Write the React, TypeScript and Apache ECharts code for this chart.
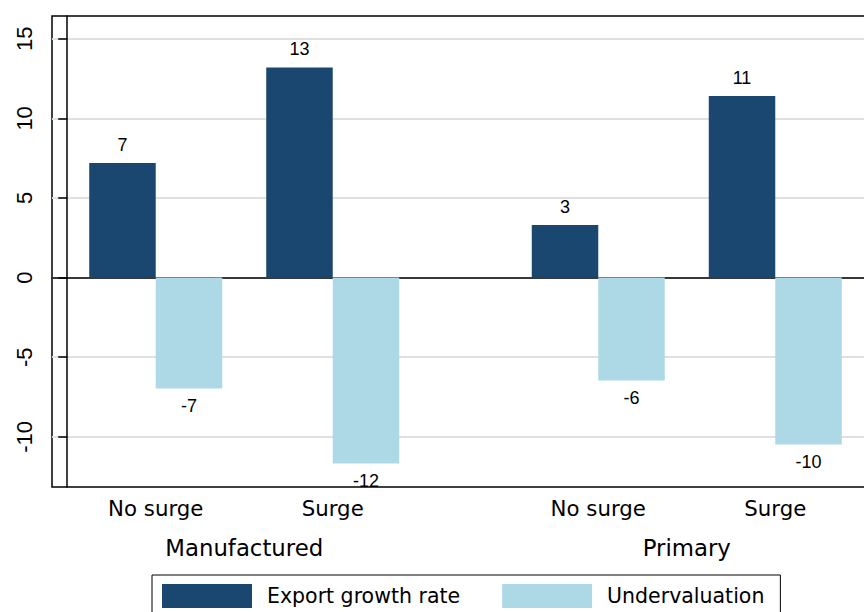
import React, { useEffect, useRef } from "react";
import * as echarts from "echarts";

// ---- data ----
const groupLabels = ["Manufactured", "Primary"];
const groupPositions = [2, 7];
const barLabels = ["No surge", "Surge", "No surge", "Surge"];
const barPositions = [1, 3, 6, 8];
const exportGrowth = [7.2, 13.2, 3.3, 11.4];
const undervaluation = [-6.96, -11.67, -6.46, -10.48];
const yTicks = [-10, -5, 0, 5, 10, 15];
const seriesNames = ["Export growth rate", "Undervaluation"];
const seriesColors = ["#1a476f", "#add8e6"];

export default function App() {
  const ref = useRef<HTMLDivElement>(null);
  useEffect(() => {
    if (!ref.current) return;
    const chart = echarts.init(ref.current, null, { renderer: "svg" });
    const makeSeries = (name: string, vals: number[], color: string) => ({
      type: "bar",
      name,
      barWidth: 66.5,
      barGap: "0%",
      itemStyle: { color },
      label: {
        show: true,
        fontSize: 18,
        fontFamily: "Liberation Sans",
        color: "#000",
        distance: 9,
        formatter: (p: any) => String(Math.round(p.value[1])),
      },
      data: vals.map((v, i) => ({
        value: [barPositions[i], v],
        label: { position: v >= 0 ? "top" : "bottom" },
      })),
    });
    chart.setOption({
      animation: false,
      backgroundColor: "#fff",
      grid: {
        left: 52,
        top: 16,
        width: 827,
        height: 471,
        outerBoundsMode: "none",
        containLabel: false,
        show: true,
        borderColor: "#000",
        borderWidth: 1.5,
        backgroundColor: "transparent",
      },
      xAxis: [
        {
          type: "value",
          min: -0.172,
          max: 9.172,
          axisLine: { show: true, lineStyle: { color: "#000", width: 1.5 } },
          axisTick: { show: false },
          splitLine: { show: false },
          axisLabel: {
            customValues: barPositions,
            formatter: (v: number) => barLabels[barPositions.indexOf(Number(v))] ?? "",
            fontSize: 21.3,
            fontFamily: "DejaVu Sans",
            color: "#000",
            margin: 11,
          },
        },
        {
          type: "value",
          position: "bottom",
          min: -0.172,
          max: 9.172,
          axisLine: { show: false },
          axisTick: { show: false },
          splitLine: { show: false },
          axisLabel: {
            customValues: groupPositions,
            formatter: (v: number) => groupLabels[groupPositions.indexOf(Number(v))] ?? "",
            fontSize: 22.8,
            fontFamily: "DejaVu Sans",
            color: "#000",
            margin: 49,
          },
        },
      ],
      yAxis: {
        type: "value",
        min: -13.15,
        max: 16.43,
        axisLine: { show: true, lineStyle: { color: "#000", width: 1.5 } },
        axisTick: {
          show: true,
          length: 9,
          customValues: yTicks,
          lineStyle: { color: "#000", width: 1.5 },
        },
        splitLine: { show: true, lineStyle: { color: "#e0e0e0", width: 2 } },
        axisLabel: {
          customValues: yTicks,
          rotate: 90,
          fontSize: 22,
          fontFamily: "Liberation Sans",
          color: "#000",
          margin: 17,
        },
      },
      legend: {
        show: true,
        left: 152,
        top: 575,
        orient: "horizontal",
        icon: "rect",
        itemWidth: 90,
        itemHeight: 24,
        itemGap: 42,
        padding: [9, 16, 9, 10],
        borderColor: "#000",
        borderWidth: 1,
        textStyle: {
          fontSize: 20.5,
          fontFamily: "DejaVu Sans",
          color: "#000",
          padding: [0, 0, 0, 10],
        },
        data: seriesNames,
      },
      series: [
        makeSeries(seriesNames[0], exportGrowth, seriesColors[0]),
        makeSeries(seriesNames[1], undervaluation, seriesColors[1]),
      ],
    });
    return () => chart.dispose();
  }, []);
  return (
    <div
      ref={ref}
      style={{ position: "fixed", left: 0, top: 0, width: 864, height: 612 }}
    />
  );
}
